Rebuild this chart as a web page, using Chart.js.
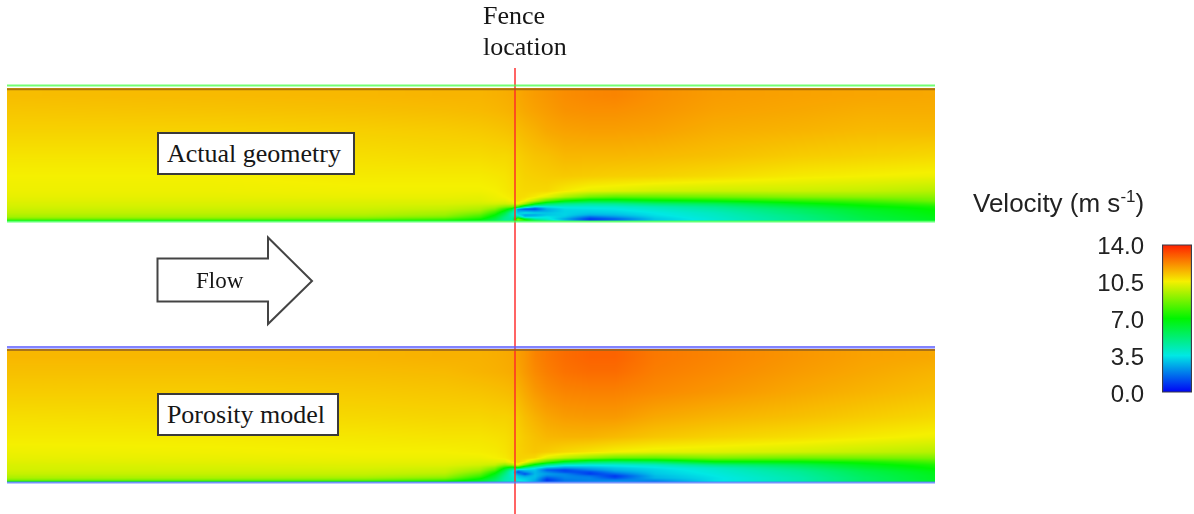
<!DOCTYPE html>
<html>
<head>
<meta charset="utf-8">
<script src="https://cdn.jsdelivr.net/npm/chart.js@4/dist/chart.umd.min.js"></script>
<style>
html, body { margin: 0; padding: 0; background: #fff; overflow: hidden; }
body { width: 1194px; height: 514px; position: relative; }
canvas { position: absolute; }
.serif { position: absolute; font-family: "Liberation Serif", serif; color: #161616; white-space: nowrap; }
.box { background: #fff; border: 2px solid #3a3a3a; box-sizing: border-box; text-align: center; font-size: 26px; padding-right: 4px; }
</style>
</head>
<body>
<canvas id="actual" width="928" height="230" style="left:7px;top:60px"></canvas>
<canvas id="porosity" width="928" height="224" style="left:7px;top:290px"></canvas>
<canvas id="colourbar" width="104" height="213" style="left:1090px;top:212px"></canvas>

<div class="serif" style="left:483px;top:0;font-size:26px;line-height:31px">Fence<br>location</div>
<div class="serif box" style="left:157px;top:132px;width:198px;height:43px;line-height:40px">Actual geometry</div>
<div class="serif box" style="left:157px;top:393px;width:182px;height:43px;line-height:40px">Porosity model</div>
<svg width="1194" height="514" style="position:absolute;left:0;top:0;pointer-events:none">
  <polygon points="157.5,258.5 268,258.5 268,237.5 312,281 268,324 268,301.5 157.5,301.5" fill="#fff" stroke="#444" stroke-width="2"/>
</svg>
<div class="serif" style="left:196px;top:266px;font-size:23px;line-height:30px">Flow</div>
<div style="position:absolute;left:973px;top:187px;font:26px 'Liberation Sans',sans-serif;color:#222;white-space:nowrap;line-height:32px">Velocity (m s<sup style="font-size:17px;line-height:0">-1</sup>)</div>

<script>
// distance from the fence, and height above the floor
const stations = [-508, -300, -150, -70, -35, -20, -10, -3, 3, 10, 20, 32, 50, 75, 100, 140, 200, 285, 350, 420];
const heights = [0, 2, 4, 6, 8, 10, 12, 14, 17, 20, 24, 30, 45, 65, 90, 110, 125];

// velocity (m/s), one line per station, low to high
const actualVelocity = [
    [7, 8.6, 9.3, 9.5, 9.7, 9.8, 9.9, 10, 10.1, 10.2, 10.3, 10.4, 10.5, 10.7, 11, 11.2, 11.35],
    [7, 8.6, 9.3, 9.5, 9.7, 9.8, 9.9, 10, 10.1, 10.2, 10.3, 10.4, 10.5, 10.7, 11, 11.25, 11.4],
    [7, 8.5, 9.2, 9.5, 9.7, 9.8, 9.9, 10, 10.1, 10.2, 10.35, 10.45, 10.6, 10.8, 11.05, 11.3, 11.45],
    [7, 8, 8.8, 9.2, 9.4, 9.6, 9.8, 9.9, 10.1, 10.2, 10.35, 10.45, 10.6, 10.85, 11.1, 11.35, 11.5],
    [6.5, 7.2, 7.8, 8.3, 8.8, 9.2, 9.5, 9.7, 10, 10.2, 10.3, 10.45, 10.6, 10.85, 11.15, 11.4, 11.5],
    [5.5, 6, 6.5, 7, 7.6, 8.2, 8.9, 9.4, 10, 10.3, 10.4, 10.5, 10.65, 10.9, 11.2, 11.45, 11.55],
    [4.5, 4.8, 5, 5.5, 6, 6.8, 7.6, 8.8, 9.9, 10.3, 10.5, 10.6, 10.7, 10.9, 11.25, 11.5, 11.6],
    [4.5, 4.5, 4.4, 4.2, 4.4, 5.2, 6.5, 8.5, 10, 10.5, 10.6, 10.7, 10.8, 10.95, 11.3, 11.55, 11.65],
    [8.5, 9, 5, 3.5, 3, 2.5, 2, 7.5, 10.4, 10.8, 10.85, 10.85, 10.9, 11.05, 11.35, 11.6, 11.7],
    [7.5, 6.5, 3, 2.4, 3.5, 2.4, 1.2, 4.8, 9.2, 10.5, 10.8, 10.9, 11, 11.15, 11.45, 11.7, 11.8],
    [6, 4.5, 3.2, 2.5, 3.2, 2.2, 1, 3, 7, 9.6, 10.6, 10.9, 11.05, 11.25, 11.55, 11.8, 11.9],
    [4.5, 3.8, 3.5, 3, 3, 2.6, 2.6, 3.4, 5.5, 8.2, 10.2, 10.9, 11.1, 11.3, 11.7, 11.9, 12],
    [3, 2.5, 3, 3.2, 3.2, 3.2, 3.3, 3.7, 4.8, 7, 9.4, 10.6, 11.15, 11.45, 11.8, 12.05, 12.15],
    [1.2, 0.8, 1.6, 2.6, 3, 3.2, 3.4, 3.7, 4.6, 6.3, 8.6, 10.3, 11.1, 11.45, 11.85, 12.1, 12.25],
    [1.8, 1.4, 2.2, 2.8, 3.1, 3.3, 3.5, 3.8, 4.7, 6.3, 8.3, 10.2, 11.05, 11.45, 11.85, 12.1, 12.3],
    [3, 3, 3.2, 3.4, 3.5, 3.7, 3.9, 4.2, 5.2, 6.7, 8.4, 10, 11, 11.4, 11.8, 12, 12.1],
    [3.8, 3.8, 3.9, 4, 4.1, 4.3, 4.5, 4.8, 5.6, 7, 8.6, 9.9, 10.85, 11.3, 11.6, 11.8, 11.9],
    [4.9, 4.9, 5, 5.1, 5.3, 5.4, 5.6, 6, 6.7, 7.6, 8.9, 9.9, 10.6, 11.1, 11.5, 11.7, 11.8],
    [5.8, 5.9, 6, 6.1, 6.2, 6.3, 6.5, 6.8, 7.3, 8, 9, 9.8, 10.5, 11, 11.4, 11.6, 11.75],
    [6.5, 6.6, 6.7, 6.8, 6.9, 7, 7.1, 7.3, 7.9, 8.6, 9, 9.6, 10.4, 10.9, 11.4, 11.6, 11.7]
];

const porosityVelocity = [
    [7, 8.8, 9.4, 9.6, 9.8, 9.9, 10, 10.05, 10.1, 10.2, 10.3, 10.4, 10.6, 10.8, 11.1, 11.3, 11.45],
    [7, 8.7, 9.4, 9.6, 9.8, 9.9, 10, 10.05, 10.15, 10.25, 10.35, 10.45, 10.6, 10.85, 11.1, 11.3, 11.45],
    [7, 8.6, 9.3, 9.6, 9.8, 9.9, 10, 10.1, 10.2, 10.3, 10.4, 10.5, 10.65, 10.9, 11.15, 11.35, 11.5],
    [6.8, 8, 8.9, 9.3, 9.6, 9.8, 9.9, 10, 10.2, 10.3, 10.4, 10.5, 10.7, 10.95, 11.2, 11.4, 11.55],
    [6, 6.6, 7.3, 7.9, 8.4, 8.9, 9.3, 9.6, 10, 10.2, 10.4, 10.55, 10.7, 10.95, 11.25, 11.5, 11.55],
    [5.2, 5.5, 5.9, 6.3, 6.8, 7.4, 8.2, 8.8, 9.8, 10.2, 10.5, 10.6, 10.75, 11, 11.3, 11.55, 11.6],
    [4.3, 4.4, 4.5, 4.7, 5, 5.4, 6, 7, 9, 10.2, 10.6, 10.7, 10.8, 11, 11.35, 11.6, 11.65],
    [4, 4, 4, 3.9, 3.8, 3.8, 4.4, 6, 9.4, 10.6, 10.8, 10.85, 10.9, 11.05, 11.4, 11.65, 11.7],
    [4, 3.5, 3.2, 3, 2.2, 1.2, 2.8, 6.5, 10.4, 11, 11, 11, 11, 11.15, 11.5, 11.75, 11.85],
    [3.6, 3.2, 3, 2.4, 1.2, 2.2, 3, 4.8, 8.6, 10.6, 11, 11.1, 11.15, 11.35, 11.7, 11.95, 12],
    [2.6, 2.6, 2.8, 2.9, 2.8, 2.8, 3, 3.6, 6.5, 9.4, 10.9, 11.2, 11.3, 11.55, 11.95, 12.2, 12.3],
    [1.2, 0.8, 1.3, 2, 2.4, 2, 1.4, 2.6, 4.8, 8, 10.2, 11.1, 11.45, 11.75, 12.15, 12.4, 12.5],
    [2, 1.8, 2, 2.1, 2, 1.2, 1, 2.2, 3.8, 6.5, 9.6, 10.9, 11.5, 11.9, 12.3, 12.6, 12.7],
    [2.1, 2, 2, 1.7, 0.9, 1.1, 2, 2.6, 3.6, 5.6, 9, 10.7, 11.5, 11.95, 12.35, 12.7, 12.85],
    [2.4, 1.9, 1.1, 0.8, 1.5, 2.2, 2.7, 3, 3.7, 5.3, 8.5, 10.5, 11.4, 11.95, 12.35, 12.7, 12.85],
    [1.8, 2.2, 2.7, 2.8, 3, 3.1, 3.2, 3.4, 4, 5.6, 8.4, 10.3, 11.2, 11.7, 12.2, 12.4, 12.5],
    [3.4, 3.4, 3.4, 3.5, 3.6, 3.7, 3.8, 4, 5, 6.8, 8.8, 10.2, 11, 11.5, 12, 12.2, 12.3],
    [4.4, 4.4, 4.4, 4.5, 4.6, 4.7, 4.9, 5.2, 5.8, 6.9, 8.6, 10, 10.8, 11.3, 11.7, 11.9, 12],
    [5.5, 5.5, 5.5, 5.6, 5.7, 5.8, 6, 6.3, 6.7, 7.3, 8.7, 9.8, 10.6, 11.1, 11.5, 11.7, 11.8],
    [6.4, 6.4, 6.5, 6.5, 6.6, 6.7, 6.9, 7.1, 7.4, 8, 8.8, 9.6, 10.4, 10.9, 11.3, 11.5, 11.7]
];

// colour bar
const scaleTicks = [0, 3.5, 7, 10.5, 14];
const scaleColours = [[0, 0, 245], [0, 232, 228], [0, 245, 0], [245, 240, 0], [255, 30, 0]];

function colourFor(v) {
    const t = Math.min(Math.max(v / 3.5, 0), 3.9999);
    const i = Math.floor(t), f = t - i;
    const a = scaleColours[i], b = scaleColours[i + 1];
    return [a[0] + (b[0] - a[0]) * f, a[1] + (b[1] - a[1]) * f, a[2] + (b[2] - a[2]) * f];
}

function bracket(list, v) {
    let i = 0;
    while (i < list.length - 2 && list[i + 1] < v) i++;
    const f = (v - list[i]) / (list[i + 1] - list[i]);
    return [i, Math.min(Math.max(f, 0), 1)];
}

// paints the contour from the grid, going through the chart's scales
const contourPlugin = {
    id: 'contour',
    beforeDatasetsDraw(chart, args, opts) {
        const area = chart.chartArea;
        const w = Math.round(area.right - area.left), h = Math.round(area.bottom - area.top);
        const img = chart.ctx.createImageData(w, h);
        for (let py = 0; py < h; py++) {
            const [r, fr] = bracket(heights, chart.scales.y.getValueForPixel(area.top + py + 0.5));
            for (let px = 0; px < w; px++) {
                const [c, fc] = bracket(stations, chart.scales.x.getValueForPixel(area.left + px + 0.5));
                const f = opts.field;
                const low = f[c][r] * (1 - fc) + f[c + 1][r] * fc;
                const high = f[c][r + 1] * (1 - fc) + f[c + 1][r + 1] * fc;
                const col = colourFor(low * (1 - fr) + high * fr);
                const k = (py * w + px) * 4;
                img.data[k] = col[0];
                img.data[k + 1] = col[1];
                img.data[k + 2] = col[2];
                img.data[k + 3] = 255;
            }
        }
        chart.ctx.putImageData(img, Math.round(area.left), Math.round(area.top));
    }
};

function wallLine(y, colour, width) {
    return {
        data: [{ x: stations[0], y: y }, { x: stations[stations.length - 1], y: y }],
        showLine: true, pointRadius: 0, borderColor: colour, borderWidth: width, clip: false
    };
}

function panel(id, field, pad, fenceEnds, walls) {
    const grid = [];
    stations.forEach((x, c) => heights.forEach((y, r) => grid.push({ x: x, y: y, v: field[c][r] })));
    return new Chart(document.getElementById(id), {
        type: 'scatter',
        plugins: [contourPlugin],
        data: {
            datasets: [
                { data: grid, pointRadius: 0, showLine: false },
                ...walls,
                {
                    data: [{ x: 0, y: fenceEnds[0] }, { x: 0, y: fenceEnds[1] }],
                    showLine: true, pointRadius: 0, borderColor: 'rgba(255,40,40,0.72)', borderWidth: 2, clip: false
                }
            ]
        },
        options: {
            responsive: false,
            animation: false,
            events: [],
            devicePixelRatio: 1,
            layout: { padding: pad },
            scales: {
                x: { type: 'linear', display: false, min: stations[0], max: stations[stations.length - 1] },
                y: { type: 'linear', display: false, min: 0, max: 133 }
            },
            plugins: { legend: { display: false }, tooltip: { enabled: false }, contour: { field: field } }
        }
    });
}

panel('actual', actualVelocity, { top: 28, bottom: 69, left: 0, right: 0 }, [153, -69], [
    wallLine(135.5, 'rgba(70,255,70,0.75)', 2),
    wallLine(131.7, 'rgba(150,100,20,0.8)', 2),
    wallLine(-0.5, 'rgba(60,255,80,0.8)', 2)
]);

panel('porosity', porosityVelocity, { top: 59, bottom: 32, left: 0, right: 0 }, [192, -32], [
    wallLine(134.7, 'rgba(90,90,255,0.75)', 2.5),
    wallLine(132, 'rgba(150,100,30,0.8)', 2),
    wallLine(-0.5, 'rgba(80,120,250,0.8)', 2)
]);

new Chart(document.getElementById('colourbar'), {
    type: 'bar',
    data: {
        labels: ['Velocity'],
        datasets: [{
            data: [[scaleTicks[0], scaleTicks[scaleTicks.length - 1]]],
            barPercentage: 1,
            categoryPercentage: 1,
            borderColor: '#3a3a48',
            borderWidth: 1.5,
            borderSkipped: false,
            backgroundColor(ctx) {
                const area = ctx.chart.chartArea;
                if (!area) return '#000';
                const g = ctx.chart.ctx.createLinearGradient(0, area.bottom, 0, area.top);
                scaleColours.forEach((c, i) => g.addColorStop(i / (scaleColours.length - 1), 'rgb(' + c.join(',') + ')'));
                return g;
            }
        }]
    },
    options: {
        responsive: false,
        animation: false,
        events: [],
        devicePixelRatio: 1,
        layout: { padding: { top: 0, bottom: 0, right: 2, left: 0 } },
        scales: {
            x: { display: false },
            y: {
                min: 0,
                max: 14,
                grid: { display: false, drawTicks: false },
                border: { display: false },
                afterBuildTicks(axis) { axis.ticks = scaleTicks.map(v => ({ value: v })); },
                afterFit(axis) { axis.width = 72; },
                ticks: {
                    padding: 18,
                    labelOffset: 3,
                    color: '#222',
                    font: { family: 'Liberation Sans', size: 24 },
                    callback: v => v.toFixed(1)
                }
            }
        },
        plugins: { legend: { display: false }, tooltip: { enabled: false } }
    }
});
</script>
</body>
</html>
